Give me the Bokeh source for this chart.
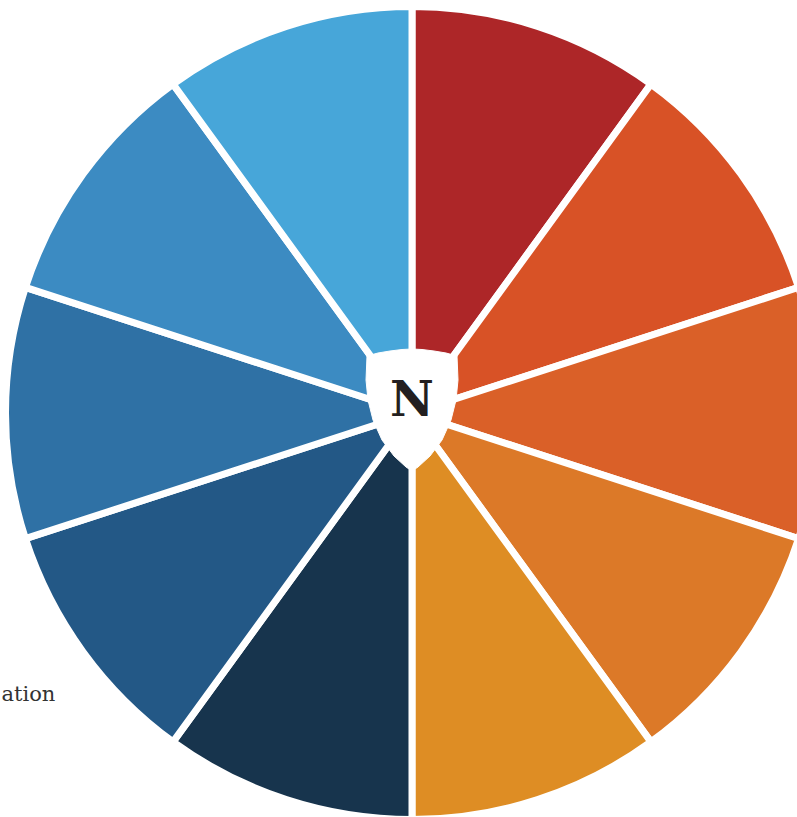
import numpy as np
from bokeh.plotting import figure
from bokeh.models import Range1d, ColumnDataSource
from bokeh.core.properties import value
from bokeh.embed import file_html
from bokeh.resources import INLINE

# ---- data ----
categories = ["Segment 1", "Segment 2", "Segment 3", "Segment 4", "Segment 5",
              "Segment 6", "Segment 7", "Segment 8", "Segment 9", "Segment 10"]
shares = [10, 10, 10, 10, 10, 10, 10, 10, 10, 10]
colors = ["#AD2628", "#D85226", "#DA6028", "#DC7928", "#DE8D24",
          "#17344D", "#235886", "#2F71A5", "#3C8BC2", "#47A6D9"]
label_text = "ation"
logo_letter = "N"

W, H = 797, 817
p = figure(width=W, height=H, output_backend="svg", toolbar_location=None,
           x_range=Range1d(0, W), y_range=Range1d(0, H),
           min_border=0, outline_line_color=None, background_fill_color="white")
p.xaxis.visible = False
p.yaxis.visible = False
p.grid.visible = False

cx, cy = 411.5, H - 412.5
vals = np.array(shares, dtype=float)
ang = vals / vals.sum() * 2 * np.pi
prev = np.concatenate([[0], np.cumsum(ang)[:-1]])
end_a = np.pi / 2 - prev
start_a = end_a - ang

src = ColumnDataSource(dict(x=[cx] * len(vals), y=[cy] * len(vals),
                            start=start_a, end=end_a, color=colors, cat=categories))
p.wedge(x="x", y="y", radius=406.5, start_angle="start", end_angle="end",
        direction="anticlock", fill_color="color", line_color="white",
        line_width=7, source=src)

# shield emblem in the centre (offsets relative to centre, screen px, y down)
shield_dx = [-45, -34, -22, -10, 0, 10, 22, 34, 45, 46, 44, 39, 30, 18, 6, 0,
             -6, -18, -30, -39, -44, -46]
shield_dy = [-57, -60, -62, -63.5, -64, -63.5, -62, -60, -57, -33, -13, 7, 27, 43,
             54, 58, 54, 43, 27, 7, -13, -33]
p.patch([cx + d for d in shield_dx], [cy - d for d in shield_dy],
        fill_color="white", line_color="white", line_width=1)

p.text(x=[cx], y=[cy + 14], text=[logo_letter], text_font=value("DejaVu Serif"),
       text_font_style="bold", text_font_size="48px", text_color="#231F20",
       text_align="center", text_baseline="middle")

p.text(x=[1], y=[H - 693], text=[label_text], text_font=value("DejaVu Serif"),
       text_font_size="21px", text_color="#333333",
       text_align="left", text_baseline="alphabetic")

open("out.html", "w").write(file_html(p, INLINE))
